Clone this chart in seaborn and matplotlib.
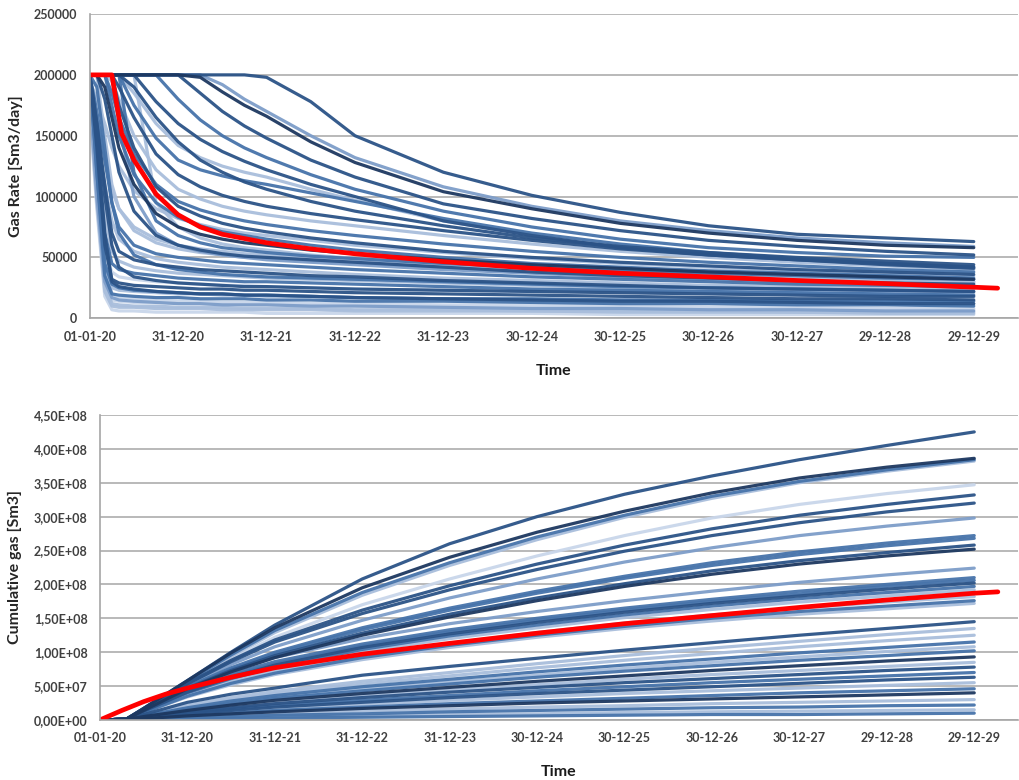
import numpy as np
import pandas as pd
import matplotlib
matplotlib.use("Agg")
import matplotlib.pyplot as plt
import seaborn as sns
from matplotlib.ticker import FuncFormatter

# ==========================================
# data
# ==========================================
tick_years = [0, 1, 2, 3, 4, 5, 6, 7, 8, 9, 10]
tick_labels = ["01-01-20", "31-12-20", "31-12-21", "31-12-22", "31-12-23",
               "30-12-24", "30-12-25", "30-12-26", "30-12-27", "29-12-28", "29-12-29"]

# gas rate, thousand Sm3/day, one list per realisation
rate_t = [0, 0.08, 0.17, 0.25, 0.33, 0.5, 0.75, 1.0, 1.25, 1.5, 1.75, 2.0, 2.5, 3, 4, 5, 6, 7, 8, 9, 10]
rate_runs_k = [
    [200, 200, 200, 200, 200, 200, 200, 200, 200, 200, 200, 198, 178, 150, 120, 101, 87, 76, 69, 66, 63],
    [200, 200, 200, 200, 200, 200, 200, 200, 198, 186, 175, 166, 145, 128, 104, 90, 78, 70, 64, 60, 58],
    [200, 200, 200, 200, 200, 200, 200, 200, 185, 170, 158, 148, 130, 116, 94, 82, 72, 64, 59, 55, 52],
    [200, 200, 200, 200, 200, 200, 200, 180, 163, 150, 140, 132, 118, 106, 88, 75, 65, 58, 54, 51, 50],
    [200, 200, 200, 200, 200, 200, 178, 160, 147, 137, 129, 122, 110, 100, 80, 68, 58, 52, 48, 45, 42],
    [200, 200, 200, 200, 200, 185, 160, 142, 132, 125, 120, 116, 106, 97, 80, 68, 58, 51, 47, 44, 41],
    [200, 200, 200, 200, 200, 175, 148, 130, 122, 117, 113, 110, 103, 96, 82, 70, 61, 54, 49, 45, 42],
    [200, 200, 200, 200, 190, 165, 135, 118, 108, 101, 96, 92, 86, 81, 72, 64, 57, 52, 48, 44, 41],
    [200, 200, 200, 195, 180, 150, 122, 106, 98, 92, 88, 85, 80, 76, 68, 61, 55, 50, 46, 43, 40],
    [200, 200, 200, 185, 165, 135, 110, 96, 89, 84, 80, 77, 72, 68, 61, 55, 50, 46, 43, 40, 38],
    [200, 200, 200, 200, 175, 140, 108, 92, 84, 78, 74, 71, 66, 62, 55, 50, 46, 43, 40, 38, 36],
    [195, 180, 160, 140, 125, 105, 90, 82, 77, 73, 70, 68, 64, 60, 54, 49, 45, 42, 39, 37, 35],
    [200, 200, 200, 175, 150, 118, 95, 83, 76, 71, 68, 65, 60, 56, 50, 45, 42, 39, 37, 35, 33],
    [200, 200, 190, 165, 140, 110, 86, 75, 69, 65, 62, 60, 56, 53, 48, 44, 41, 38, 36, 34, 32],
    [190, 160, 130, 105, 90, 75, 65, 60, 57, 55, 53, 52, 49, 47, 43, 40, 37, 35, 33, 31, 30],
    [200, 200, 180, 150, 120, 88, 68, 60, 56, 53, 51, 50, 48, 46, 42, 38, 35, 33, 31, 29, 28],
    [200, 170, 130, 95, 75, 60, 53, 50, 48, 46, 45, 44, 42, 40, 37, 34, 32, 30, 28, 27, 26],
    [185, 150, 110, 80, 65, 55, 49, 46, 44, 42, 41, 40, 38, 36, 33, 31, 29, 27, 26, 25, 24],
    [200, 160, 110, 70, 55, 48, 44, 42, 40, 39, 38, 37, 35, 34, 31, 29, 27, 25, 24, 23, 22],
    [195, 140, 85, 55, 47, 42, 39, 37, 36, 35, 34, 33, 32, 31, 29, 27, 25, 24, 23, 22, 21],
    [200, 130, 70, 45, 40, 37, 35, 33, 32, 31, 30, 30, 29, 28, 26, 24, 23, 22, 21, 20, 19],
    [190, 120, 55, 38, 34, 32, 30, 29, 28, 27, 27, 26, 25, 24, 23, 22, 21, 20, 19, 18, 17],
    [200, 140, 60, 32, 29, 27, 26, 25, 24, 24, 23, 23, 22, 21, 20, 19, 18, 17, 16, 16, 15],
    [180, 110, 40, 25, 23, 22, 21, 20, 20, 19, 19, 18, 18, 17, 16, 15, 15, 14, 13, 13, 12],
    [200, 120, 35, 20, 19, 18, 17, 17, 16, 16, 16, 15, 15, 14, 14, 13, 12, 12, 11, 11, 10],
    [190, 100, 25, 15, 14, 13, 13, 12, 12, 12, 11, 11, 11, 10, 10, 9, 9, 8, 8, 8, 7],
    [175, 95, 22, 10, 9, 9, 8, 8, 8, 7, 7, 7, 7, 6, 6, 6, 5, 5, 5, 4, 4],
    [200, 160, 100, 60, 42, 34, 31, 29, 28, 27, 26, 26, 25, 24, 23, 22, 21, 20, 19, 18, 18],
    [200, 200, 200, 200, 200, 200, 95, 75, 66, 61, 58, 56, 52, 49, 45, 41, 38, 35, 33, 31, 30],
    [200, 200, 200, 200, 160, 100, 70, 60, 55, 52, 50, 48, 46, 44, 40, 37, 34, 32, 30, 28, 27],
    [200, 200, 200, 200, 200, 120, 80, 68, 62, 58, 56, 54, 51, 49, 45, 42, 39, 37, 35, 33, 32],
    [200, 200, 150, 110, 90, 72, 62, 57, 54, 52, 50, 49, 47, 45, 42, 39, 36, 34, 32, 30, 29],
    [200, 190, 140, 95, 70, 52, 44, 40, 38, 36, 35, 34, 33, 32, 30, 28, 26, 25, 24, 23, 22],
    [200, 150, 70, 30, 26, 24, 22, 21, 20, 20, 19, 19, 18, 17, 16, 15, 14, 14, 13, 12, 12],
    [195, 130, 50, 20, 17, 16, 15, 14, 14, 13, 13, 13, 12, 12, 11, 11, 10, 9, 9, 8, 8],
    [200, 110, 30, 12, 11, 10, 10, 9, 9, 9, 8, 8, 8, 7, 7, 6, 6, 6, 5, 5, 5],
    [185, 100, 30, 17, 15, 14, 13, 12, 12, 11, 11, 11, 10, 10, 9, 8, 8, 7, 7, 6, 6],
    [170, 90, 18, 7, 6, 6, 5, 5, 5, 5, 5, 4, 4, 4, 4, 4, 3, 3, 3, 3, 3],
    [200, 120, 45, 28, 25, 23, 22, 21, 20, 20, 19, 19, 18, 17, 16, 16, 15, 15, 14, 14, 14],
    [200, 200, 200, 200, 200, 200, 200, 200, 200, 192, 180, 170, 150, 132, 108, 92, 80, 72, 66, 62, 59],
    [200, 200, 200, 200, 200, 190, 165, 145, 130, 120, 112, 106, 96, 88, 76, 66, 59, 54, 50, 47, 44],
]
# shade index per rate run: 0 = navy ... 5 = palest
rate_shade = [1, 0, 1, 2, 1, 4, 2, 1, 4, 2, 1, 4, 2, 0, 4, 1, 2, 4, 1, 4,
              2, 5, 1, 4, 2, 5, 4, 1, 4, 3, 2, 4, 2, 1, 5, 4, 3, 5, 2, 3, 1]

p50_rate_t = [0, 0.25, 0.36, 0.5, 0.6, 0.75, 1.0, 1.25, 1.5, 2, 2.5, 3, 4, 5, 6, 7, 8, 9, 10, 10.27]
p50_rate_k = [200, 200, 152, 130, 119, 102, 85, 75, 69, 62, 57, 53, 46.5, 41, 37, 34, 31, 28.5, 25.5, 24.7]

# cumulative gas, 1e8 Sm3, one list per realisation
cum_t = [0, 0.3, 0.5, 1, 1.5, 2, 3, 4, 5, 6, 7, 8, 9, 10]
cum_runs_e8 = [
    [0, .01, .17, .58, 1.0, 1.4, 2.08, 2.6, 3.0, 3.33, 3.6, 3.84, 4.05, 4.25],
    [0, .01, .17, .58, .99, 1.36, 1.95, 2.4, 2.77, 3.08, 3.35, 3.57, 3.73, 3.86],
    [0, .01, .17, .57, .96, 1.32, 1.88, 2.32, 2.7, 3.02, 3.3, 3.52, 3.69, 3.84],
    [0, .01, .16, .56, .94, 1.29, 1.84, 2.28, 2.66, 2.99, 3.27, 3.5, 3.67, 3.82],
    [0, .01, .16, .55, .9, 1.22, 1.7, 2.08, 2.42, 2.72, 2.98, 3.18, 3.34, 3.47],
    [0, .01, .16, .54, .88, 1.18, 1.62, 1.98, 2.3, 2.58, 2.82, 3.02, 3.18, 3.32],
    [0, .01, .16, .53, .86, 1.15, 1.57, 1.92, 2.22, 2.49, 2.72, 2.91, 3.07, 3.2],
    [0, .01, .15, .51, .82, 1.08, 1.47, 1.8, 2.08, 2.33, 2.54, 2.72, 2.86, 2.98],
    [0, .01, .15, .49, .77, 1.0, 1.36, 1.65, 1.9, 2.12, 2.32, 2.48, 2.61, 2.72],
    [0, .01, .15, .48, .75, .98, 1.33, 1.62, 1.87, 2.09, 2.28, 2.44, 2.57, 2.68],
    [0, .01, .14, .47, .73, .95, 1.28, 1.56, 1.8, 2.01, 2.2, 2.35, 2.47, 2.58],
    [0, .01, .14, .46, .71, .92, 1.25, 1.52, 1.76, 1.97, 2.15, 2.3, 2.42, 2.52],
    [0, .01, .14, .46, .72, .92, 1.2, 1.42, 1.6, 1.76, 1.9, 2.03, 2.14, 2.24],
    [0, .01, .14, .44, .68, .86, 1.12, 1.33, 1.5, 1.65, 1.78, 1.9, 2.0, 2.1],
    [0, .01, .13, .42, .65, .83, 1.09, 1.3, 1.47, 1.62, 1.75, 1.86, 1.97, 2.06],
    [0, .01, .13, .41, .63, .81, 1.07, 1.27, 1.44, 1.59, 1.72, 1.83, 1.93, 2.02],
    [0, .01, .13, .4, .61, .78, 1.04, 1.24, 1.4, 1.55, 1.68, 1.79, 1.88, 1.97],
    [0, .01, .12, .38, .59, .76, 1.01, 1.2, 1.36, 1.51, 1.63, 1.74, 1.83, 1.92],
    [0, .01, .12, .36, .56, .72, .95, 1.13, 1.29, 1.43, 1.55, 1.65, 1.74, 1.82],
    [0, .01, .11, .35, .54, .69, .92, 1.1, 1.25, 1.38, 1.5, 1.6, 1.68, 1.76],
    [0, .01, .11, .34, .52, .67, .89, 1.07, 1.22, 1.35, 1.46, 1.56, 1.64, 1.72],
    [0, .01, .08, .26, .38, .47, .66, .79, .91, 1.03, 1.14, 1.25, 1.35, 1.45],
    [0, .01, .07, .22, .33, .42, .57, .7, .83, .95, 1.06, 1.16, 1.26, 1.35],
    [0, .01, .07, .2, .3, .39, .53, .65, .77, .88, .98, 1.08, 1.17, 1.25],
    [0, .01, .06, .18, .28, .36, .49, .6, .71, .81, .9, .99, 1.07, 1.15],
    [0, .01, .06, .17, .26, .34, .46, .56, .66, .76, .85, .93, 1.01, 1.08],
    [0, .01, .05, .16, .24, .32, .43, .53, .63, .72, .8, .88, .95, 1.02],
    [0, .01, .05, .14, .22, .29, .39, .48, .57, .65, .73, .8, .87, .93],
    [0, .01, .04, .13, .2, .26, .36, .44, .52, .6, .67, .73, .79, .85],
    [0, .01, .04, .12, .18, .24, .33, .41, .48, .55, .61, .67, .73, .78],
    [0, .01, .03, .1, .16, .21, .29, .36, .43, .49, .55, .6, .65, .7],
    [0, .01, .03, .09, .14, .19, .26, .33, .39, .44, .49, .54, .59, .63],
    [0, .01, .03, .08, .12, .16, .23, .29, .34, .39, .43, .47, .51, .55],
    [0, .01, .02, .07, .1, .14, .19, .24, .28, .32, .36, .4, .43, .46],
    [0, .01, .02, .06, .09, .12, .17, .21, .25, .28, .31, .34, .37, .4],
    [0, .01, .02, .04, .07, .09, .13, .16, .19, .21, .24, .26, .28, .3],
    [0, .01, .01, .03, .05, .07, .09, .12, .14, .16, .18, .19, .21, .22],
    [0, 0, .01, .02, .03, .05, .06, .08, .09, .11, .12, .13, .14, .15],
    [0, 0, .01, .02, .02, .03, .04, .05, .06, .07, .08, .08, .09, .1],
]
cum_shade = [1, 0, 2, 4, 5, 1, 1, 3, 2, 2, 1, 0, 3, 2, 2, 1, 2, 4, 4, 2,
             4, 1, 4, 4, 2, 4, 2, 0, 4, 1, 2, 1, 4, 2, 0, 4, 2, 4, 2]

p50_cum_t = [0, 0.25, 0.5, 0.75, 1, 1.5, 2, 3, 4, 5, 6, 7, 8, 9, 10, 10.27]
p50_cum_e8 = [0, 0.14, 0.27, 0.38, 0.47, 0.63, 0.77, 0.97, 1.13, 1.28, 1.42, 1.54, 1.66, 1.77, 1.87, 1.89]

# ==========================================
# style
# ==========================================
SHADES = ["#1d3860", "#2b5387", "#4673aa", "#7d9dc9", "#a9bedc", "#c9d6ea"]
RED = "#ff0000"
GRID = "#b3b3b3"
TXT = "#404040"

sns.set_theme(style="white")
plt.rcParams["font.family"] = ["Lato", "DejaVu Sans"]
plt.rcParams["font.weight"] = "bold"

fig = plt.figure(figsize=(10.2, 7.8), dpi=100)
ax_rate = fig.add_axes([0.088, 0.592, 0.91, 0.390])
ax_cum = fig.add_axes([0.098, 0.077, 0.90, 0.391])


def draw_runs(ax, t, runs, shades, scale):
    # lightest first so the dark runs sit on top
    order = sorted(range(len(runs)), key=lambda i: -shades[i])
    for i in order:
        sns.lineplot(x=t, y=np.array(runs[i]) * scale, ax=ax, color=SHADES[shades[i]],
                     linewidth=2.3, alpha=0.95, estimator=None, sort=False, legend=False)


def style_axis(ax, ymax, ystep, ylabel):
    ax.set_xlim(0, 10.5)
    ax.set_ylim(0, ymax)
    ax.set_yticks(np.arange(0, ymax + ystep / 2, ystep))
    ax.set_xticks(tick_years)
    ax.set_xticklabels(tick_labels)
    ax.grid(axis="y", color=GRID, linewidth=1.3)
    ax.grid(axis="x", visible=False)
    ax.set_axisbelow(True)
    for s in ["top", "right"]:
        ax.spines[s].set_visible(False)
    for s in ["left", "bottom"]:
        ax.spines[s].set_color("#a6a6a6")
        ax.spines[s].set_linewidth(1.2)
    ax.tick_params(axis="both", length=0, labelsize=9, labelcolor=TXT, pad=9)
    for lab in ax.get_xticklabels() + ax.get_yticklabels():
        lab.set_fontweight("bold")
    ax.set_xlabel("Time", fontsize=11.5, fontweight="bold", color="#1a1a1a", labelpad=15)
    ax.set_ylabel(ylabel, fontsize=11.5, fontweight="bold", color="#262626", labelpad=8)


# top: gas rate
draw_runs(ax_rate, rate_t, rate_runs_k, rate_shade, 1000)
sns.lineplot(x=p50_rate_t, y=np.array(p50_rate_k) * 1000, ax=ax_rate, color=RED,
             linewidth=3.4, estimator=None, sort=False, legend=False)
style_axis(ax_rate, 250000, 50000, "Gas Rate [Sm3/day]")
ax_rate.yaxis.set_major_formatter(FuncFormatter(lambda v, p: f"{v:.0f}"))

# bottom: cumulative gas
draw_runs(ax_cum, cum_t, cum_runs_e8, cum_shade, 1e8)
sns.lineplot(x=p50_cum_t, y=np.array(p50_cum_e8) * 1e8, ax=ax_cum, color=RED,
             linewidth=3.4, estimator=None, sort=False, legend=False)
style_axis(ax_cum, 4.5e8, 0.5e8, "Cumulative gas [Sm3]")
ax_cum.yaxis.set_major_formatter(FuncFormatter(lambda v, p: f"{v:.2E}".replace(".", ",")))

fig.savefig("out.png", dpi=100, facecolor="white")
